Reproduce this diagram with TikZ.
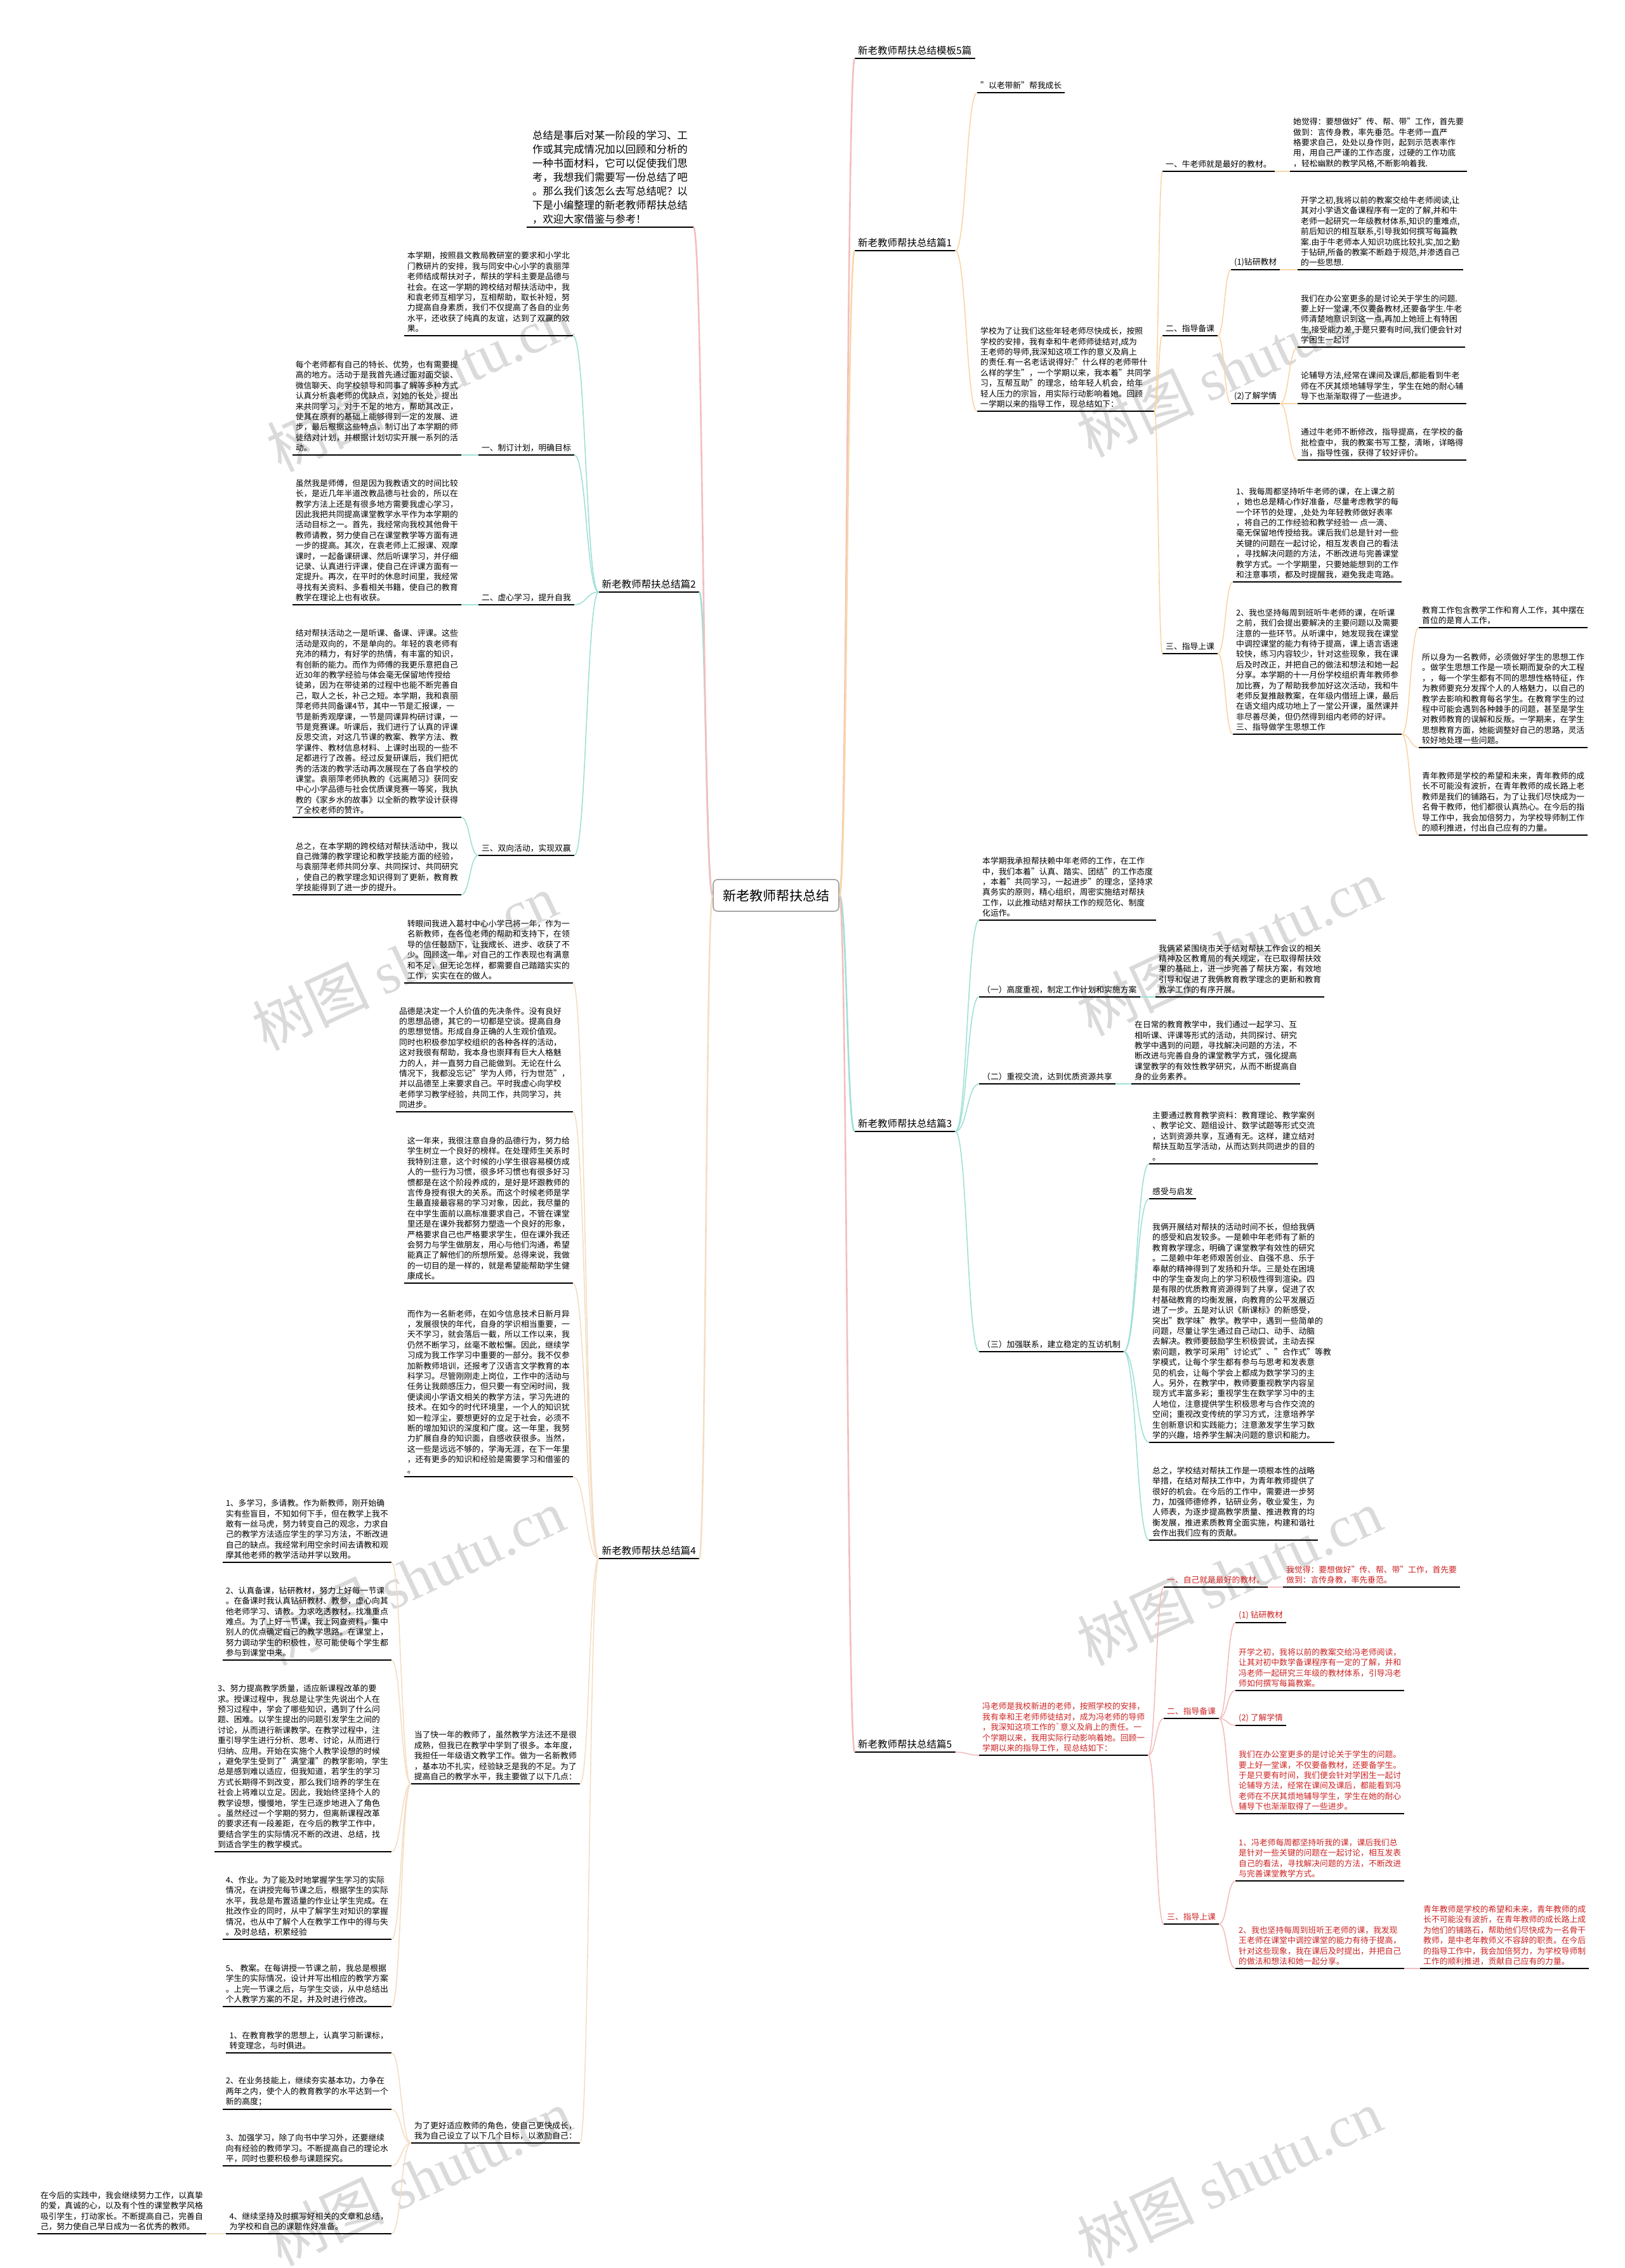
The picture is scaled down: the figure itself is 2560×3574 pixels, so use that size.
\documentclass[tikz,border=0pt]{standalone}
\usepackage{fontspec}
\setmainfont{Noto Sans CJK SC}
\newfontfamily\wmlat{Liberation Serif}
\usetikzlibrary{calc}
\definecolor{cpink}{RGB}{244,190,190}
\definecolor{corange}{RGB}{248,214,168}
\definecolor{cteal}{RGB}{160,224,214}
\definecolor{cpeach}{RGB}{244,222,196}
\definecolor{cred}{RGB}{205,35,35}
\definecolor{cwm}{RGB}{218,218,218}
\newcommand\fp{\fontsize{12.8}{16.4}\selectfont}
\newcommand\ft{\fontsize{15.5}{19}\selectfont}
\newcommand\fr{\fontsize{21}{25}\selectfont}
\newcommand\fin{\fontsize{16.3}{22}\selectfont}
\newcommand\fwm{\fontsize{92}{100}\selectfont}
\tikzset{
 para/.style={inner xsep=5pt, inner ysep=5pt, align=left, font=\fp},
 ttl/.style={inner xsep=5pt, inner ysep=5pt, align=left, font=\ft},
 uline/.style={line width=2.3pt, black},
 wm/.style={text=cwm, rotate=25, font=\fwm, inner sep=0pt},
 r0/.style={line width=2.6pt},
 r1/.style={line width=1.6pt},
}
\newcommand\ub[6][]{\node[para,anchor=#3,#1] (#2) at (#4,#5) {#6};
 \draw[uline] (#2.south west) -- (#2.south east);}
\newcommand\lk[3]{%
 \path (#2) coordinate (lkA) (#3) coordinate (lkB);
 \path ($(lkA)!0.5!(lkB)$) coordinate (lkM);
 \draw[#1] (lkA) .. controls (lkM |- lkA) and (lkM |- lkB) .. (lkB);}
\begin{document}
\begin{tikzpicture}[x=1pt,y=-1pt]
\useasboundingbox (0,0) rectangle (2560,3574);
\fill[white] (0,0) rectangle (2560,3574);
% watermarks
\node[wm] (w1) at (661,604) {树图 {\wmlat shutu.cn}};
\node[wm] (w2) at (1938,581) {树图 {\wmlat shutu.cn}};
\node[wm] (w3) at (638,1516) {树图 {\wmlat shutu.cn}};
\node[wm] (w4) at (1938,1493) {树图 {\wmlat shutu.cn}};
\node[wm] (w5) at (650,2485) {树图 {\wmlat shutu.cn}};
\node[wm] (w6) at (1938,2485) {树图 {\wmlat shutu.cn}};
\node[wm] (w7) at (661,3431) {树图 {\wmlat shutu.cn}};
\node[wm] (w8) at (1938,3431) {树图 {\wmlat shutu.cn}};

% root
\node[draw=gray!70, line width=1.8pt, rounded corners=7pt, fill=white, minimum width=198pt, minimum height=50pt, font=\fr, inner sep=4pt] (root) at (1223,1411) {新老教师帮扶总结};

% intro
\node[para, font=\fin, inner xsep=9pt, anchor=south west] (intro) at (830,358) {总结是事后对某一阶段的学习、工\\作或其完成情况加以回顾和分析的\\一种书面材料，它可以促使我们思\\考，我想我们需要写一份总结了吧\\。那么我们该怎么去写总结呢？以\\下是小编整理的新老教师帮扶总结\\，欢迎大家借鉴与参考！};
\draw[uline] (intro.south west) -- (intro.south east);

% branch titles
\ub[ttl]{b0}{south west}{1347}{92}{新老教师帮扶总结模板5篇}
\ub[ttl]{b1}{south west}{1347}{395}{新老教师帮扶总结篇1}
\ub[ttl]{b3}{south west}{1347}{1783}{新老教师帮扶总结篇3}
\ub[ttl]{b5}{south west}{1347}{2761}{新老教师帮扶总结篇5}
\ub[ttl]{b2}{south east}{1102}{933}{新老教师帮扶总结篇2}
\ub[ttl]{b4}{south east}{1102}{2456}{新老教师帮扶总结篇4}

% ===== branch 1 =====
\ub{n1a}{south west}{1540}{146}{"以老带新"帮我成长}
\ub{n1b}{south west}{1540}{648}{学校为了让我们这些年轻老师尽快成长，按照\\学校的安排，我有幸和牛老师师徒结对,成为\\王老师的导师,我深知这项工作的意义及肩上\\的责任.有一名老话说得好:"什么样的老师带什\\么样的学生"，一个学期以来，我本着"共同学\\习，互帮互助"的理念，给年轻人机会，给年\\轻人压力的宗旨，用实际行动影响着她。回顾\\一学期以来的指导工作，现总结如下：}
\ub{n1c}{south west}{1832}{270}{一、牛老师就是最好的教材。}
\ub{n1c1}{south west}{2033}{270}{她觉得：要想做好"传、帮、带"工作，首先要\\做到：言传身教，率先垂范。牛老师一直严\\格要求自己，处处以身作则，起到示范表率作\\用，用自己严谨的工作态度，过硬的工作功底\\，轻松幽默的教学风格,不断影响着我.}
\ub{n1d}{south west}{1832}{529}{二、指导备课}
\ub{n1d1}{south west}{1940}{425}{(1)钻研教材}
\ub{n1d1a}{south west}{2045}{425}{开学之初,我将以前的教案交给牛老师阅读,让\\其对小学语文备课程序有一定的了解,并和牛\\老师一起研究一年级教材体系,知识的重难点,\\前后知识的相互联系,引导我如何撰写每篇教\\案.由于牛老师本人知识功底比较扎实,加之勤\\于钻研,所备的教案不断趋于规范,并渗透自己\\的一些思想.}
\ub{n1d2}{south west}{1940}{636}{(2)了解学情}
\ub{n1d2a}{south west}{2045}{547}{我们在办公室更多的是讨论关于学生的问题.\\要上好一堂课,不仅要备教材,还要备学生.牛老\\师清楚地意识到这一点,再加上她班上有特困\\生,接受能力差,于是只要有时间,我们便会针对\\学困生一起讨}
\ub{n1d2b}{south west}{2045}{636}{论辅导方法,经常在课间及课后,都能看到牛老\\师在不厌其烦地辅导学生，学生在她的耐心辅\\导下也渐渐取得了一些进步。}
\ub{n1d2c}{south west}{2045}{725}{通过牛老师不断修改，指导提高，在学校的备\\批检查中，我的教案书写工整，清晰，详略得\\当，指导性强，获得了较好评价。}
\ub{n1e}{south west}{1832}{1030}{三、指导上课}
\ub{n1e1}{south west}{1943}{917}{1、我每周都坚持听牛老师的课，在上课之前\\，她也总是精心作好准备，尽量考虑教学的每\\一个环节的处理，,处处为年轻教师做好表率\\，将自己的工作经验和教学经验一 点一滴、\\毫无保留地传授给我。课后我们总是针对一些\\关键的问题在一起讨论，相互发表自己的看法\\，寻找解决问题的方法，不断改进与完善课堂\\教学方式。一个学期里，只要她能想到的工作\\和注意事项，都及时提醒我，避免我走弯路。}
\ub{n1e2}{south west}{1943}{1157}{2、我也坚持每周到班听牛老师的课，在听课\\之前，我们会提出要解决的主要问题以及需要\\注意的一些环节。从听课中，她发现我在课堂\\中调控课堂的能力有待于提高，课上语言语速\\较快，练习内容较少，针对这些现象，我在课\\后及时改正，并把自己的做法和想法和她一起\\分享。本学期的十一月份学校组织青年教师参\\加比赛，为了帮助我参加好这次活动，我和牛\\老师反复推敲教案，在年级内借班上课，最后\\在语文组内成功地上了一堂公开课，虽然课并\\非尽善尽美，但仍然得到组内老师的好评。\\三、指导做学生思想工作}
\ub{n1e2a}{south west}{2236}{989}{教育工作包含教学工作和育人工作，其中摆在\\首位的是育人工作，}
\ub{n1e2b}{south west}{2236}{1178}{所以身为一名教师，必须做好学生的思想工作\\。做学生思想工作是一项长期而复杂的大工程\\，，每一个学生都有不同的思想性格特征，作\\为教师要充分发挥个人的人格魅力，以自己的\\教学去影响和教育每名学生。在教育学生的过\\程中可能会遇到各种棘手的问题，甚至是学生\\对教师教育的误解和反叛。一学期来，在学生\\思想教育方面，她能调整好自己的思路，灵活\\较好地处理一些问题。}
\ub{n1e2c}{south west}{2236}{1316}{青年教师是学校的希望和未来，青年教师的成\\长不可能没有波折，在青年教师的成长路上老\\教师是我们的铺路石，为了让我们尽快成为一\\名骨干教师，他们都很认真热心。在今后的指\\导工作中，我会加倍努力，为学校导师制工作\\的顺利推进，付出自己应有的力量。}

% ===== branch 2 =====
\ub{n2a}{south east}{903}{529}{本学期，按照县文教局教研室的要求和小学北\\门教研片的安排，我与同安中心小学的袁丽萍\\老师结成帮扶对子，帮扶的学科主要是品德与\\社会。在这一学期的跨校结对帮扶活动中，我\\和袁老师互相学习，互相帮助，取长补短，努\\力提高自身素质，我们不仅提高了各自的业务\\水平，还收获了纯真的友谊，达到了双赢的效\\果。}
\ub{n2b}{south east}{905}{717}{一、制订计划，明确目标}
\ub{n2b1}{south east}{727}{717}{每个老师都有自己的特长、优势，也有需要提\\高的地方。活动于是我首先通过面对面交谈、\\微信聊天、向学校领导和同事了解等多种方式\\认真分析袁老师的优缺点，对她的长处，提出\\来共同学习，对于不足的地方，帮助其改正，\\使其在原有的基础上能够得到一定的发展、进\\步，最后根据这些特点，制订出了本学期的师\\徒结对计划，并根据计划切实开展一系列的活\\动。}
\ub{n2c}{south east}{905}{953}{二、虚心学习，提升自我}
\ub{n2c1}{south east}{727}{953}{虽然我是师傅，但是因为我教语文的时间比较\\长，是近几年半道改教品德与社会的，所以在\\教学方法上还是有很多地方需要我虚心学习，\\因此我把共同提高课堂教学水平作为本学期的\\活动目标之一。首先，我经常向我校其他骨干\\教师请教，努力使自己在课堂教学等方面有进\\一步的提高。其次，在袁老师上汇报课、观摩\\课时，一起备课研课、然后听课学习，并仔细\\记录、认真进行评课，使自己在评课方面有一\\定提升。再次，在平时的休息时间里，我经常\\寻找有关资料、多看相关书籍，使自己的教育\\教学在理论上也有收获。}
\ub{n2d}{south east}{905}{1348}{三、双向活动，实现双赢}
\ub{n2d1}{south east}{727}{1288}{结对帮扶活动之一是听课、备课、评课。这些\\活动是双向的，不是单向的。年轻的袁老师有\\充沛的精力，有好学的热情，有丰富的知识，\\有创新的能力。而作为师傅的我更乐意把自己\\近30年的教学经验与体会毫无保留地传授给\\徒弟，因为在带徒弟的过程中也能不断完善自\\己，取人之长，补己之短。本学期，我和袁丽\\萍老师共同备课4节，其中一节是汇报课，一\\节是新秀观摩课，一节是同课异构研讨课，一\\节是竞赛课。听课后，我们进行了认真的评课\\反思交流，对这几节课的教案、教学方法、教\\学课件、教材信息材料、上课时出现的一些不\\足都进行了改善。经过反复研课后，我们把优\\秀的活泼的教学活动再次展现在了各自学校的\\课堂。袁丽萍老师执教的《远离陋习》获同安\\中心小学品德与社会优质课竞赛一等奖，我执\\教的《家乡水的故事》以全新的教学设计获得\\了全校老师的赞许。}
\ub{n2d2}{south east}{727}{1410}{总之，在本学期的跨校结对帮扶活动中，我以\\自己微薄的教学理论和教学技能方面的经验，\\与袁丽萍老师共同分享、共同探讨、共同研究\\，使自己的教学理念知识得到了更新，教育教\\学技能得到了进一步的提升。}

% ===== branch 3 =====
\ub{n3a}{south west}{1543}{1450}{本学期我承担帮扶赖中年老师的工作，在工作\\中，我们本着"认真、踏实、团结"的工作态度\\，本着"共同学习，一起进步"的理念，坚持求\\真务实的原则，精心组织，周密实施结对帮扶\\工作，以此推动结对帮扶工作的规范化、制度\\化运作。}
\ub{n3b}{south west}{1543}{1571}{（一）高度重视，制定工作计划和实施方案}
\ub{n3b1}{south west}{1821}{1571}{我俩紧紧围绕市关于结对帮扶工作会议的相关\\精神及区教育局的有关规定，在已取得帮扶效\\果的基础上，进一步完善了帮扶方案，有效地\\引导和促进了我俩教育教学理念的更新和教育\\教学工作的有序开展。}
\ub{n3c}{south west}{1543}{1708}{（二）重视交流，达到优质资源共享}
\ub{n3c1}{south west}{1783}{1708}{在日常的教育教学中，我们通过一起学习、互\\相听课、评课等形式的活动，共同探讨、研究\\教学中遇到的问题，寻找解决问题的方法，不\\断改进与完善自身的课堂教学方式，强化提高\\课堂教学的有效性教学研究，从而不断提高自\\身的业务素养。}
\ub{n3d}{south west}{1543}{2130}{（三）加强联系，建立稳定的互访机制}
\ub{n3d1}{south west}{1811}{1834}{主要通过教育教学资料：教育理论、教学案例\\、教学论文、题组设计、数学试题等形式交流\\，达到资源共享，互通有无。这样，建立结对\\帮扶互助互学活动，从而达到共同进步的目的\\。}
\ub{n3d2}{south west}{1811}{1889}{感受与启发}
\ub{n3d3}{south west}{1811}{2273}{我俩开展结对帮扶的活动时间不长，但给我俩\\的感受和启发较多。一是赖中年老师有了新的\\教育教学理念，明确了课堂教学有效性的研究\\。二是赖中年老师艰苦创业、自强不息、乐于\\奉献的精神得到了发扬和升华。三是处在困境\\中的学生奋发向上的学习积极性得到渲染。四\\是有限的优质教育资源得到了共享，促进了农\\村基础教育的均衡发展，向教育的公平发展迈\\进了一步。五是对认识《新课标》的新感受，\\突出"数学味"教学。教学中，遇到一些简单的\\问题，尽量让学生通过自己动口、动手、动脑\\去解决。教师要鼓励学生积极尝试，主动去探\\索问题，教学可采用"讨论式"、"合作式"等教\\学模式，让每个学生都有参与与思考和发表意\\见的机会，让每个学会上都成为数学学习的主\\人。另外，在教学中，教师要重视教学内容呈\\现方式丰富多彩；重视学生在数学学习中的主\\人地位，注意提供学生积极思考与合作交流的\\空间；重视改变传统的学习方式，注意培养学\\生创新意识和实践能力；注意激发学生学习数\\学的兴趣，培养学生解决问题的意识和能力。}
\ub{n3d4}{south west}{1811}{2427}{总之，学校结对帮扶工作是一项根本性的战略\\举措，在结对帮扶工作中，为青年教师提供了\\很好的机会。在今后的工作中，需要进一步努\\力，加强师德修养，钻研业务，敬业爱生，为\\人师表，为逐步提高教学质量、推进教育的均\\衡发展，推进素质教育全面实施，构建和谐社\\会作出我们应有的贡献。}

% ===== branch 4 =====
\ub{n4a}{south east}{903}{1549}{转眼间我进入葛村中心小学已将一年，作为一\\名新教师，在各位老师的帮助和支持下，在领\\导的信任鼓励下，让我成长、进步、收获了不\\少。回顾这一年，对自己的工作表现也有满意\\和不足，但无论怎样，都需要自己踏踏实实的\\工作，实实在在的做人。}
\ub{n4b}{south east}{903}{1752}{品德是决定一个人价值的先决条件。没有良好\\的思想品德，其它的一切都是空谈。提高自身\\的思想觉悟。形成自身正确的人生观价值观。\\同时也积极参加学校组织的各种各样的活动，\\这对我很有帮助，我本身也崇拜有巨大人格魅\\力的人，并一直努力自己能做到。无论在什么\\情况下，我都没忘记"学为人师，行为世范"，\\并以品德至上来要求自己。平时我虚心向学校\\老师学习教学经验，共同工作，共同学习，共\\同进步。}
\ub{n4c}{south east}{903}{2022}{这一年来，我很注意自身的品德行为，努力给\\学生树立一个良好的榜样。在处理师生关系时\\我特别注意，这个时候的小学生很容易模仿成\\人的一些行为习惯，很多坏习惯也有很多好习\\惯都是在这个阶段养成的，是好是坏跟教师的\\言传身授有很大的关系。而这个时候老师是学\\生最直接最容易的学习对象，因此，我尽量的\\在中学生面前以高标准要求自己，不管在课堂\\里还是在课外我都努力塑造一个良好的形象，\\严格要求自己也严格要求学生，但在课外我还\\会努力与学生做朋友，用心与他们沟通，希望\\能真正了解他们的所想所爱。总得来说，我做\\的一切目的是一样的，就是希望能帮助学生健\\康成长。}
\ub{n4d}{south east}{903}{2327}{而作为一名新老师，在如今信息技术日新月异\\，发展很快的年代，自身的学识相当重要，一\\天不学习，就会落后一截，所以工作以来，我\\仍然不断学习，丝毫不敢松懈。因此，继续学\\习成为我工作学习中重要的一部分。我不仅参\\加新教师培训，还报考了汉语言文学教育的本\\科学习。尽管刚刚走上岗位，工作中的活动与\\任务让我颇感压力，但只要一有空闲时间，我\\便读阅小学语文相关的教学方法，学习先进的\\技术。在如今的时代环境里，一个人的知识犹\\如一粒浮尘，要想更好的立足于社会，必须不\\断的增加知识的深度和广度。这一年里，我努\\力扩展自身的知识面，自感收获很多。当然，\\这一些是远远不够的，学海无涯，在下一年里\\，还有更多的知识和经验是需要学习和借鉴的\\。}
\ub{n4e}{south east}{914}{2811}{当了快一年的教师了，虽然教学方法还不是很\\成熟，但我已在教学中学到了很多。本年度，\\我担任一年级语文教学工作。做为一名新教师\\，基本功不扎实，经验缺乏是我的不足。为了\\提高自己的教学水平，我主要做了以下几点：}
\ub{n4e1}{south east}{617}{2462}{1、多学习，多请教。作为新教师，刚开始确\\实有些盲目，不知如何下手，但在教学上我不\\敢有一丝马虎，努力转变自己的观念，力求自\\己的教学方法适应学生的学习方法，不断改进\\自己的缺点。我经常利用空余时间去请教和观\\摩其他老师的教学活动并学以致用。}
\ub{n4e2}{south east}{617}{2616}{2、认真备课，钻研教材，努力上好每一节课\\。在备课时我认真钻研教材、教参，虚心向其\\他老师学习、请教。力求吃透教材，找准重点\\难点。为了上好一节课，我上网查资料，集中\\别人的优点确定自己的教学思路。在课堂上，\\努力调动学生的积极性，尽可能使每个学生都\\参与到课堂中来。}
\ub{n4e3}{south east}{617}{2918}{3、努力提高教学质量，适应新课程改革的要\\求。授课过程中，我总是让学生先说出个人在\\预习过程中，学会了哪些知识，遇到了什么问\\题、困难。以学生提出的问题引发学生之间的\\讨论，从而进行新课教学。在教学过程中，注\\重引导学生进行分析、思考、讨论，从而进行\\归纳、应用。开始在实施个人教学设想的时候\\，避免学生受到了"满堂灌"的教学影响，学生\\总是感到难以适应，但我知道，若学生的学习\\方式长期得不到改变，那么我们培养的学生在\\社会上将难以立足。因此，我始终坚持个人的\\教学设想，慢慢地，学生已逐步地进入了角色\\。虽然经过一个学期的努力，但离新课程改革\\的要求还有一段差距，在今后的教学工作中，\\要结合学生的实际情况不断的改进、总结，找\\到适合学生的教学模式。}
\ub{n4e4}{south east}{617}{3056}{4、作业。为了能及时地掌握学生学习的实际\\情况，在讲授完每节课之后，根据学生的实际\\水平，我总是布置适量的作业让学生完成。在\\批改作业的同时，从中了解学生对知识的掌握\\情况，也从中了解个人在教学工作中的得与失\\。及时总结，积累经验}
\ub{n4e5}{south east}{617}{3162}{5、 教案。在每讲授一节课之前，我总是根据\\学生的实际情况，设计并写出相应的教学方案\\。上完一节课之后，与学生交谈，从中总结出\\个人教学方案的不足，并及时进行修改。}
\ub{n4f}{south east}{914}{3377}{为了更好适应教师的角色，使自己更快成长，\\我为自己设立了以下几个目标，以激励自己：}
\ub{n4f1}{south east}{617}{3235}{1、在教育教学的思想上，认真学习新课标，\\转变理念，与时俱进。}
\ub{n4f2}{south east}{617}{3324}{2、在业务技能上，继续夯实基本功，力争在\\两年之内，使个人的教育教学的水平达到一个\\新的高度；}
\ub{n4f3}{south east}{617}{3413}{3、加强学习，除了向书中学习外，还要继续\\向有经验的教师学习。不断提高自己的理论水\\平，同时也要积极参与课题探究。}
\ub{n4f4}{south east}{617}{3520}{4、继续坚持及时撰写好相关的文章和总结，\\为学校和自己的课题作好准备。}
\ub{n4f4a}{south east}{325}{3520}{在今后的实践中，我会继续努力工作，以真挚\\的爱，真诚的心，以及有个性的课堂教学风格\\吸引学生，打动家长。不断提高自己，完善自\\己，努力使自己早日成为一名优秀的教师。}

% ===== branch 5 =====
\ub[text=cred]{n5a}{south west}{1543}{2766}{冯老师是我校新进的老师，按照学校的安排，\\我有幸和王老师师徒结对，成为冯老师的导师\\，我深知这项工作的\textasciigrave 意义及肩上的责任。一\\个学期以来，我用实际行动影响着她。回顾一\\学期以来的指导工作，现总结如下：}
\ub[text=cred]{n5b}{south west}{1834}{2501}{一、自己就是最好的教材。}
\ub[text=cred]{n5b1}{south west}{2022}{2501}{我觉得：要想做好"传、帮、带"工作，首先要\\做到：言传身教，率先垂范。}
\ub[text=cred]{n5c}{south west}{1834}{2708}{二、指导备课}
\ub[text=cred]{n5c1}{south west}{1947}{2557}{(1) 钻研教材}
\ub[text=cred]{n5c2}{south west}{1947}{2664}{开学之初，我将以前的教案交给冯老师阅读，\\让其对初中数学备课程序有一定的了解，并和\\冯老师一起研究三年级的教材体系，引导冯老\\师如何撰写每篇教案。}
\ub[text=cred]{n5c3}{south west}{1947}{2719}{(2) 了解学情}
\ub[text=cred]{n5c4}{south west}{1947}{2858}{我们在办公室更多的是讨论关于学生的问题。\\要上好一堂课，不仅要备教材，还要备学生。\\于是只要有时间，我们便会针对学困生一起讨\\论辅导方法，经常在课间及课后，都能看到冯\\老师在不厌其烦地辅导学生，学生在她的耐心\\辅导下也渐渐取得了一些进步。}
\ub[text=cred]{n5d}{south west}{1834}{3032}{三、指导上课}
\ub[text=cred]{n5d1}{south west}{1947}{2964}{1、冯老师每周都坚持听我的课，课后我们总\\是针对一些关键的问题在一起讨论，相互发表\\自己的看法，寻找解决问题的方法，不断改进\\与完善课堂教学方式。}
\ub[text=cred]{n5d2}{south west}{1947}{3102}{2、我也坚持每周到班听王老师的课，我发现\\王老师在课堂中调控课堂的能力有待于提高，\\针对这些现象，我在课后及时提出，并把自己\\的做法和想法和她一起分享。}
\ub[text=cred]{n5d2a}{south west}{2238}{3102}{青年教师是学校的希望和未来，青年教师的成\\长不可能没有波折，在青年教师的成长路上成\\为他们的铺路石，帮助他们尽快成为一名骨干\\教师，是中老年教师义不容辞的职责。在今后\\的指导工作中，我会加倍努力，为学校导师制\\工作的顺利推进，贡献自己应有的力量。}

% ===== connectors: root =====
\lk{r0,cpink}{root.east}{b0.south west}
\lk{r0,corange}{root.east}{b1.south west}
\lk{r0,cteal}{root.east}{b3.south west}
\lk{r0,cpink}{root.east}{b5.south west}
\lk{r0,cteal}{root.west}{b2.south east}
\lk{r0,cpeach}{root.west}{b4.south east}
\lk{r0,cpink}{root.west}{intro.south east}

% branch 1
\lk{r1,corange}{b1.south east}{n1a.south west}
\lk{r1,corange}{b1.south east}{n1b.south west}
\lk{r1,corange}{n1b.south east}{n1c.south west}
\lk{r1,corange}{n1b.south east}{n1d.south west}
\lk{r1,corange}{n1b.south east}{n1e.south west}
\lk{r1,corange}{n1c.south east}{n1c1.south west}
\lk{r1,corange}{n1d.south east}{n1d1.south west}
\lk{r1,corange}{n1d.south east}{n1d2.south west}
\lk{r1,corange}{n1d1.south east}{n1d1a.south west}
\lk{r1,corange}{n1d2.south east}{n1d2a.south west}
\lk{r1,corange}{n1d2.south east}{n1d2b.south west}
\lk{r1,corange}{n1d2.south east}{n1d2c.south west}
\lk{r1,corange}{n1e.south east}{n1e1.south west}
\lk{r1,corange}{n1e.south east}{n1e2.south west}
\lk{r1,corange}{n1e2.south east}{n1e2a.south west}
\lk{r1,corange}{n1e2.south east}{n1e2b.south west}
\lk{r1,corange}{n1e2.south east}{n1e2c.south west}

% branch 2
\lk{r1,cteal}{b2.south west}{n2a.south east}
\lk{r1,cteal}{b2.south west}{n2b.south east}
\lk{r1,cteal}{b2.south west}{n2c.south east}
\lk{r1,cteal}{b2.south west}{n2d.south east}
\lk{r1,cteal}{n2b.south west}{n2b1.south east}
\lk{r1,cteal}{n2c.south west}{n2c1.south east}
\lk{r1,cteal}{n2d.south west}{n2d1.south east}
\lk{r1,cteal}{n2d.south west}{n2d2.south east}

% branch 3
\lk{r1,cteal}{b3.south east}{n3a.south west}
\lk{r1,cteal}{b3.south east}{n3b.south west}
\lk{r1,cteal}{b3.south east}{n3c.south west}
\lk{r1,cteal}{b3.south east}{n3d.south west}
\lk{r1,cteal}{n3b.south east}{n3b1.south west}
\lk{r1,cteal}{n3c.south east}{n3c1.south west}
\lk{r1,cteal}{n3d.south east}{n3d1.south west}
\lk{r1,cteal}{n3d.south east}{n3d2.south west}
\lk{r1,cteal}{n3d.south east}{n3d3.south west}
\lk{r1,cteal}{n3d.south east}{n3d4.south west}

% branch 4
\lk{r1,cpeach}{b4.south west}{n4a.south east}
\lk{r1,cpeach}{b4.south west}{n4b.south east}
\lk{r1,cpeach}{b4.south west}{n4c.south east}
\lk{r1,cpeach}{b4.south west}{n4d.south east}
\lk{r1,cpeach}{b4.south west}{n4e.south east}
\lk{r1,cpeach}{b4.south west}{n4f.south east}
\lk{r1,cpeach}{n4e.south west}{n4e1.south east}
\lk{r1,cpeach}{n4e.south west}{n4e2.south east}
\lk{r1,cpeach}{n4e.south west}{n4e3.south east}
\lk{r1,cpeach}{n4e.south west}{n4e4.south east}
\lk{r1,cpeach}{n4e.south west}{n4e5.south east}
\lk{r1,cpeach}{n4f.south west}{n4f1.south east}
\lk{r1,cpeach}{n4f.south west}{n4f2.south east}
\lk{r1,cpeach}{n4f.south west}{n4f3.south east}
\lk{r1,cpeach}{n4f.south west}{n4f4.south east}
\lk{r1,cpeach}{n4f4.south west}{n4f4a.south east}

% branch 5
\lk{r1,cpink}{b5.south east}{n5a.south west}
\lk{r1,cpink}{n5a.south east}{n5b.south west}
\lk{r1,cpink}{n5a.south east}{n5c.south west}
\lk{r1,cpink}{n5a.south east}{n5d.south west}
\lk{r1,cpink}{n5b.south east}{n5b1.south west}
\lk{r1,cpink}{n5c.south east}{n5c1.south west}
\lk{r1,cpink}{n5c.south east}{n5c2.south west}
\lk{r1,cpink}{n5c.south east}{n5c3.south west}
\lk{r1,cpink}{n5c.south east}{n5c4.south west}
\lk{r1,cpink}{n5d.south east}{n5d1.south west}
\lk{r1,cpink}{n5d.south east}{n5d2.south west}
\lk{r1,cpink}{n5d2.south east}{n5d2a.south west}
\end{tikzpicture}
\end{document}
